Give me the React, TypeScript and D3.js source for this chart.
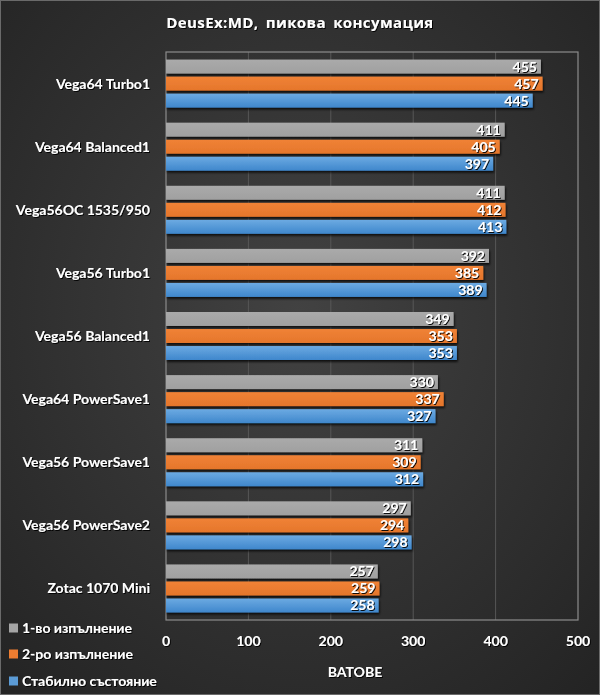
import React, { useEffect, useRef } from "react";
import * as d3 from "d3";

// chart data
const categories = [
  "Vega64 Turbo1",
  "Vega64 Balanced1",
  "Vega56OC 1535/950",
  "Vega56 Turbo1",
  "Vega56 Balanced1",
  "Vega64 PowerSave1",
  "Vega56 PowerSave1",
  "Vega56 PowerSave2",
  "Zotac 1070 Mini",
];
const seriesNames = ["1-во изпълнение", "2-ро изпълнение", "Стабилно състояние"];
const run1 = [455, 411, 411, 392, 349, 330, 311, 297, 257];
const run2 = [457, 405, 412, 385, 353, 337, 309, 294, 259];
const steady = [445, 397, 413, 389, 353, 327, 312, 298, 258];
const xTicks = [0, 100, 200, 300, 400, 500];

const seriesValues = [run1, run2, steady];
const seriesFill = ["url(#gGray)", "url(#gOrange)", "url(#gBlue)"];
const legendColors = ["#a5a5a5", "#ed7d31", "#5b9bd5"];

const W = 600;
const H = 695;
const FONT = "Lato, 'Open Sans', sans-serif";

const App: React.FC = () => {
  const svgRef = useRef<SVGSVGElement | null>(null);

  useEffect(() => {
    document.body.style.margin = "0";
    const svg = d3.select(svgRef.current);
    svg.selectAll("*").remove();

    const defs = svg.append("defs");

    // background radial gradient
    const bg = defs
      .append("radialGradient")
      .attr("id", "bg")
      .attr("cx", "50%")
      .attr("cy", "45%")
      .attr("r", "75%");
    bg.append("stop").attr("offset", "0%").attr("stop-color", "#424242");
    bg.append("stop").attr("offset", "100%").attr("stop-color", "#232323");

    const grad = (id: string, top: string, bottom: string) => {
      const g = defs
        .append("linearGradient")
        .attr("id", id)
        .attr("x1", "0")
        .attr("y1", "0")
        .attr("x2", "0")
        .attr("y2", "1");
      g.append("stop").attr("offset", "0%").attr("stop-color", top);
      g.append("stop").attr("offset", "100%").attr("stop-color", bottom);
    };
    grad("gGray", "#aaaaaa", "#a0a0a0");
    grad("gOrange", "#f08236", "#e5762b");
    grad("gBlue", "#6caae2", "#3f87cc");

    const shadow = defs.append("filter").attr("id", "barShadow").attr("x", "-5%").attr("y", "-30%").attr("width", "110%").attr("height", "180%");
    shadow
      .append("feDropShadow")
      .attr("dx", 1)
      .attr("dy", 2)
      .attr("stdDeviation", 1.2)
      .attr("flood-color", "#000")
      .attr("flood-opacity", 0.75);

    const textShadow = defs.append("filter").attr("id", "txtShadow").attr("x", "-10%").attr("y", "-30%").attr("width", "120%").attr("height", "160%");
    textShadow
      .append("feDropShadow")
      .attr("dx", 1)
      .attr("dy", 1)
      .attr("stdDeviation", 0.6)
      .attr("flood-color", "#000")
      .attr("flood-opacity", 0.9);

    svg.append("rect").attr("width", W).attr("height", H).attr("fill", "url(#bg)");
    svg
      .append("rect")
      .attr("x", 0.5)
      .attr("y", 0.5)
      .attr("width", W - 1)
      .attr("height", H - 1)
      .attr("fill", "none")
      .attr("stroke", "#6a6a6a");

    const x = d3.scaleLinear().domain([0, 500]).range([166, 578]);
    const y0 = d3.scaleBand<string>().domain(categories).range([52, 620]);
    const groupH = 48;
    const y1 = d3
      .scaleBand<string>()
      .domain(seriesNames)
      .range([(y0.bandwidth() - groupH) / 2, (y0.bandwidth() + groupH) / 2])
      .paddingInner(0.18);

    // gridlines
    svg
      .append("g")
      .selectAll("line")
      .data(xTicks.slice(1, -1))
      .join("line")
      .attr("x1", (d) => x(d))
      .attr("x2", (d) => x(d))
      .attr("y1", 52)
      .attr("y2", 620)
      .attr("stroke", "#575757")
      .attr("stroke-width", 1);

    // plot border
    svg
      .append("rect")
      .attr("x", x(0))
      .attr("y", 52)
      .attr("width", x(500) - x(0))
      .attr("height", 568)
      .attr("fill", "none")
      .attr("stroke", "#8c8c8c")
      .attr("stroke-width", 1.2);

    // bars
    const groups = svg
      .append("g")
      .selectAll("g")
      .data(categories)
      .join("g")
      .attr("transform", (d) => `translate(0,${y0(d)})`);

    seriesNames.forEach((s, si) => {
      groups
        .append("rect")
        .attr("x", x(0))
        .attr("y", y1(s)!)
        .attr("width", (_d, i) => x(seriesValues[si][i]) - x(0))
        .attr("height", y1.bandwidth())
        .attr("fill", seriesFill[si])
        .attr("filter", "url(#barShadow)");
      groups
        .append("text")
        .attr("x", (_d, i) => x(seriesValues[si][i]) - 4)
        .attr("y", y1(s)! + y1.bandwidth() / 2)
        .attr("dy", "0.36em")
        .attr("text-anchor", "end")
        .attr("fill", "#fff")
        .attr("font-family", FONT)
        .attr("font-weight", 700)
        .attr("font-size", 14)
        .attr("filter", "url(#txtShadow)")
        .text((_d, i) => seriesValues[si][i]);
    });

    // category labels
    svg
      .append("g")
      .selectAll("text")
      .data(categories)
      .join("text")
      .attr("x", 150)
      .attr("y", (d) => y0(d)! + y0.bandwidth() / 2)
      .attr("dy", "0.36em")
      .attr("text-anchor", "end")
      .attr("fill", "#fff")
      .attr("font-family", FONT)
      .attr("font-weight", 700)
      .attr("font-size", 14)
      .attr("filter", "url(#txtShadow)")
      .text((d) => d);

    // x axis tick labels
    svg
      .append("g")
      .selectAll("text")
      .data(xTicks)
      .join("text")
      .attr("x", (d) => x(d))
      .attr("y", 641)
      .attr("dy", "0.36em")
      .attr("text-anchor", "middle")
      .attr("fill", "#fff")
      .attr("font-family", FONT)
      .attr("font-weight", 700)
      .attr("font-size", 14)
      .attr("filter", "url(#txtShadow)")
      .text((d) => d);

    // axis title
    svg
      .append("text")
      .attr("x", 355)
      .attr("y", 672)
      .attr("dy", "0.36em")
      .attr("text-anchor", "middle")
      .attr("fill", "#fff")
      .attr("font-family", FONT)
      .attr("font-weight", 700)
      .attr("font-size", 14)
      .attr("filter", "url(#txtShadow)")
      .text("ВАТОВЕ");

    // chart title
    svg
      .append("text")
      .attr("x", 300)
      .attr("y", 23)
      .attr("dy", "0.36em")
      .attr("text-anchor", "middle")
      .attr("fill", "#fff")
      .attr("font-family", "'Open Sans', sans-serif")
      .attr("font-weight", 700)
      .attr("font-size", 15)
      .attr("letter-spacing", 0.4)
      .attr("word-spacing", 3)
      .attr("filter", "url(#txtShadow)")
      .text("DeusEx:MD, пикова консумация");

    // legend
    const legend = svg
      .append("g")
      .selectAll("g")
      .data(seriesNames)
      .join("g")
      .attr("transform", (_d, i) => `translate(9,${[628, 654, 681][i]})`);
    legend
      .append("rect")
      .attr("x", 0)
      .attr("y", -4.5)
      .attr("width", 9)
      .attr("height", 9)
      .attr("fill", (_d, i) => legendColors[i]);
    legend
      .append("text")
      .attr("x", 13)
      .attr("y", 0)
      .attr("dy", "0.36em")
      .attr("fill", "#fff")
      .attr("font-family", FONT)
      .attr("font-weight", 700)
      .attr("font-size", 14)
      .attr("filter", "url(#txtShadow)")
      .text((d) => d);
  }, []);

  return <svg ref={svgRef} width={W} height={H} style={{ display: "block" }} />;
};

export default App;
